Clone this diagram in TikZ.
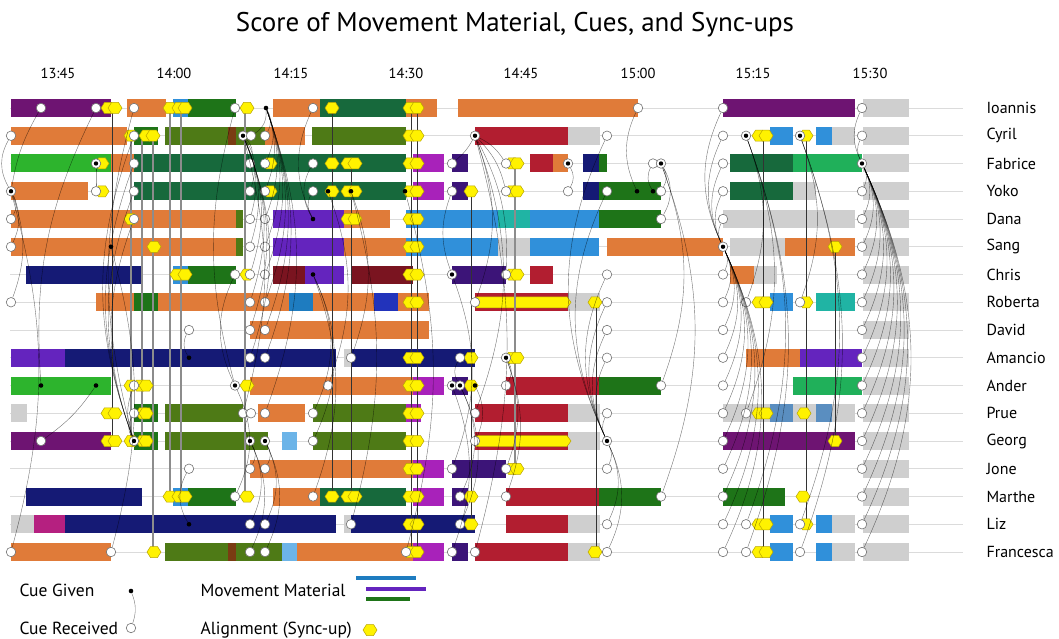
\documentclass[tikz,border=0pt]{standalone}
\usepackage{fontspec}
\setmainfont{PT Sans}
\definecolor{corange}{HTML}{E07B39}
\definecolor{cpurp}{HTML}{6E1472}
\definecolor{cdgreen}{HTML}{1E7418}
\definecolor{cforest}{HTML}{17693C}
\definecolor{colive}{HTML}{4E7A16}
\definecolor{clime}{HTML}{2DB42D}
\definecolor{cemerald}{HTML}{20B05A}
\definecolor{cred}{HTML}{B21E30}
\definecolor{cmaroon}{HTML}{7A1420}
\definecolor{cnavy}{HTML}{151A75}
\definecolor{cviolet}{HTML}{6424BE}
\definecolor{cmagenta}{HTML}{A822BA}
\definecolor{cindigo}{HTML}{3C1478}
\definecolor{cblue}{HTML}{3090DA}
\definecolor{cblue2}{HTML}{1E7CC0}
\definecolor{cteal}{HTML}{20B4A4}
\definecolor{csteel}{HTML}{5A8EC0}
\definecolor{clblue}{HTML}{6CB4E8}
\definecolor{cgray}{HTML}{CFCFCF}
\definecolor{cbrown}{HTML}{7A3C12}
\definecolor{cpink}{HTML}{B52080}
\definecolor{croyal}{HTML}{2233BB}
\definecolor{cyel}{HTML}{FFF200}
\definecolor{cyelb}{HTML}{B8A400}
\tikzset{
 recv/.style={circle, draw=black!55, fill=white, line width=0.6pt, inner sep=0pt, minimum size=9.5pt},
 cuer/.style={recv, path picture={\fill[black] (path picture bounding box.center) circle (2.2pt);}},
 cued/.style={circle, fill=black, inner sep=0pt, minimum size=4.6pt},
 cueline/.style={black, opacity=0.55, line width=0.4pt},
 syncA/.style={black!80, line width=0.7pt},
 syncB/.style={black!45, line width=1.1pt},
 rowline/.style={black!14, line width=0.8pt},
 hexa/.pic={\filldraw[fill=cyel, draw=cyelb, line width=0.5pt] (-7,0) -- (-3.5,-5.5) -- (3.5,-5.5) -- (7,0) -- (3.5,5.5) -- (-3.5,5.5) -- cycle;},
 timelab/.style={font=\fontsize{14.5}{16}\selectfont, text=black},
 namelab/.style={font=\fontsize{16}{18}\selectfont, anchor=west, text=black},
 leg/.style={font=\fontsize{17.5}{20}\selectfont, anchor=west, text=black},
}
\begin{document}
\begin{tikzpicture}[x=1pt,y=-1pt]
\useasboundingbox (0,0) rectangle (1059,639);
\fill[white] (0,0) rectangle (1059,639);
\node[font=\fontsize{27}{31}\selectfont, text=black] (title) at (515,25) {Score of Movement Material, Cues, and Sync-ups};
\foreach \t/\x [count=\i] in {13:45/58,14:00/174,14:15/291,14:30/406,14:45/521,15:00/638,15:15/753,15:30/870}
  \node[timelab] (t\i) at (\x,73) {\t};
\foreach \nm [count=\i from 0] in {Ioannis,Cyril,Fabrice,Yoko,Dana,Sang,Chris,Roberta,David,Amancio,Ander,Prue,Georg,Jone,Marthe,Liz,Francesca}
 {\pgfmathsetmacro\yy{108+27.75*\i}
  \node[namelab] (name\i) at (983,\yy) {\nm};
  \draw[rowline] (10,\yy) -- (963,\yy);}
% bars
\foreach \ri/\bl in {
0/{11/111/cpurp,127/166/corange,173/188/cblue,188/236/cdgreen,273/320/corange,320/406/cforest,406/437/corange,458/638/corange,723/855/cpurp,863/909/cgray},
1/{11/127/corange,134/158/cdgreen,165/228/colive,228/236/cbrown,236/265/colive,265/305/corange,312/406/colive,475/568/cred,568/600/cgray,770/793/cblue,816/855/cgray,816/832/cblue,863/909/cgray},
2/{11/111/clime,111/134/corange,134/406/cforest,413/444/cmagenta,452/468/cindigo,530/553/cred,553/568/corange,583/599/cnavy,599/607/cdgreen,730/793/cforest,793/862/cemerald,863/909/cgray},
3/{11/88/corange,134/406/cforest,413/444/cmagenta,452/468/cindigo,583/599/cnavy,599/661/cdgreen,730/793/cforest,793/816/cgray,863/909/cgray},
4/{11/236/corange,236/243/colive,273/344/cviolet,344/390/corange,406/498/cblue,498/530/cteal,530/599/cblue,599/661/cdgreen,723/855/cgray,863/909/cgray},
5/{11/236/corange,236/243/colive,273/344/cviolet,344/406/corange,406/498/cblue,498/530/cgray,530/599/cblue,607/723/corange,730/785/cgray,785/855/corange,863/909/cgray},
6/{26/142/cnavy,173/188/cblue,188/236/cdgreen,273/305/cmaroon,305/344/cviolet,352/413/cmaroon,452/506/cindigo,530/553/cred,730/754/corange,754/777/cgray,863/909/cgray},
7/{96/289/corange,134/158/cdgreen,289/313/cblue2,313/374/corange,374/398/croyal,398/429/corange,475/568/cred,568/600/cgray,770/793/cblue,816/855/cteal,863/909/cgray},
8/{250/429/corange,863/909/cgray},
9/{11/65/cviolet,65/336/cnavy,344/351/cgray,351/475/cnavy,746/800/corange,800/862/cviolet,863/909/cgray},
10/{11/111/clime,250/413/corange,413/444/cmagenta,452/468/cindigo,506/599/cred,599/661/cdgreen,793/862/cemerald,863/909/cgray},
11/{11/27/cgray,134/158/cdgreen,165/243/colive,258/305/corange,313/406/colive,406/421/cmagenta,475/568/cred,568/600/cgray,723/855/cgray,770/793/csteel,816/832/csteel,863/909/cgray},
12/{11/111/cpurp,134/158/cdgreen,165/268/colive,282/297/clblue,313/406/colive,475/568/cred,568/600/cgray,723/855/cpurp,863/909/cgray},
13/{250/413/corange,413/444/cmagenta,452/506/cindigo,863/909/cgray},
14/{26/142/cnavy,173/188/cblue,188/236/cdgreen,273/320/corange,320/406/cforest,413/444/cmagenta,452/468/cindigo,506/599/cred,599/661/cdgreen,723/785/cdgreen,863/909/cgray},
15/{11/34/cgray,34/65/cpink,65/336/cnavy,344/351/cgray,351/475/cnavy,506/568/cred,568/600/cgray,770/793/cblue,816/855/cgray,816/832/cblue,863/909/cgray},
16/{11/111/corange,165/228/colive,228/236/cbrown,236/282/colive,282/297/clblue,297/413/corange,413/444/cmagenta,452/468/cindigo,475/568/cred,568/600/cgray,770/793/cblue,816/855/cgray,816/832/cblue,863/909/cgray}}
 {\pgfmathsetmacro\yy{108+27.75*\ri}
  \foreach \a/\b/\c in \bl {\fill[\c] (\a,\yy-9) rectangle (\b,\yy+9);}}
% long yellow sync bars
\foreach \ri in {7,12}
 {\pgfmathsetmacro\yy{108+27.75*\ri}
  \filldraw[fill=cyel, draw=cyelb, line width=0.5pt] (476,\yy-5.5) -- (567,\yy-5.5) -- (571,\yy) -- (567,\yy+5.5) -- (476,\yy+5.5) -- cycle;}
% vertical sync lines
\foreach \x/\ra/\rb/\st [count=\k] in {112/0/12/syncA,131/1/12/syncB,142/1/12/syncB,153/1/16/syncB,170/0/14/syncB,181/0/14/syncB,245/0/14/syncB,332/0/14/syncA,351/2/14/syncA,411/0/16/syncA,417/0/16/syncA,471/3/15/syncA,515/2/13/syncB,596/7/16/syncA,763/1/16/syncA,806/1/15/syncA,835/5/12/syncA}
 {\pgfmathsetmacro\ya{108+27.75*\ra}\pgfmathsetmacro\yb{108+27.75*\rb}
  \coordinate (sa\k) at (\x,\ya); \coordinate (sb\k) at (\x,\yb);
  \draw[\st] (sa\k) -- (sb\k);}
% hexagons
\foreach \ri/\hl in {0/{108,115,170,179,185,247,332,410,417}, 1/{131,146,153,410,417,759,766,806}, 2/{102,270,332,348,355,410,417,512,517}, 3/{102,270,332,348,355,410,417,471,512,517}, 4/{131,348,355,410,417}, 5/{154,410,417,835}, 6/{177,185,247,410,417,512,517}, 7/{410,417,595,759,766,806}, 9/{410,417,471,512,517}, 10/{131,140,146,247,410,417,471}, 11/{108,115,143,146,410,417,759,766,804}, 12/{108,115,131,143,146,410,417,835}, 13/{410,417,512,517}, 14/{170,179,185,247,332,348,355,410,417,471,803}, 15/{410,417,471,759,766,806}, 16/{154,410,417,595,759,766}}
 {\pgfmathsetmacro\yy{108+27.75*\ri}
  \foreach \x in \hl {\pic at (\x,\yy) {hexa};}}
% cue / received circles
\foreach \ri/\cl in {
0/{recv/41,recv/96,recv/134,recv/235,cued/266,recv/313,recv/638,recv/723,recv/862},
1/{recv/11,recv/134,cuer/243,recv/251,recv/265,cuer/475,recv/607,recv/723,cuer/746,cuer/800,recv/862},
2/{cuer/96,recv/134,recv/250,recv/265,recv/313,recv/452,recv/506,cuer/568,recv/653,cuer/661,recv/723,cuer/862},
3/{cuer/11,recv/96,recv/134,recv/250,recv/265,recv/313,cued/328,cued/351,cued/405,recv/452,recv/506,recv/568,recv/607,cued/637,cued/653,recv/661,recv/723,recv/862},
4/{recv/11,recv/134,recv/250,recv/265,cued/313,recv/661,recv/723,recv/862},
5/{recv/11,cued/111,recv/250,recv/265,cuer/723,recv/862},
6/{recv/235,recv/250,recv/265,cued/313,cuer/452,recv/506,recv/607,recv/723,recv/862},
7/{recv/11,recv/250,recv/265,recv/475,recv/607,recv/723,recv/746,recv/800,recv/862},
8/{recv/189,recv/250,recv/265,recv/607,recv/723,recv/862},
9/{cued/189,recv/250,recv/265,recv/351,recv/460,cuer/506,recv/607,recv/723,recv/862},
10/{cued/41,cued/96,recv/134,cuer/235,recv/328,cuer/452,cuer/460,cued/475,recv/506,recv/661,recv/723,recv/862},
11/{recv/134,recv/243,recv/251,recv/265,recv/313,recv/475,recv/607,recv/723,recv/746,recv/862},
12/{recv/41,cuer/134,cuer/250,cuer/265,recv/313,recv/475,cuer/607,recv/723,recv/862},
13/{recv/189,recv/250,recv/265,recv/452,recv/506,recv/607,recv/723,recv/862},
14/{recv/235,recv/313,recv/460,recv/506,recv/661,recv/723,recv/862},
15/{cued/189,recv/250,recv/265,recv/351,recv/460,recv/607,recv/723,recv/746,recv/800,recv/862},
16/{recv/11,recv/111,recv/250,recv/265,recv/406,recv/452,recv/475,recv/607,recv/723,recv/746,recv/800,recv/862}}
 {\pgfmathsetmacro\yy{108+27.75*\ri}
  \foreach \t/\x in \cl {\node[\t] (n\ri x\x) at (\x,\yy) {};}}
% cue connectors
\foreach \a/\b/\g in {
2x862/0x862/25,2x862/1x862/25,2x862/3x862/25,2x862/4x862/25,2x862/5x862/25,2x862/6x862/25,2x862/7x862/25,2x862/8x862/25,2x862/9x862/25,2x862/10x862/25,2x862/11x862/25,2x862/12x862/25,2x862/13x862/25,2x862/14x862/25,2x862/15x862/25,2x862/16x862/25,
5x723/0x723/25,5x723/1x723/25,5x723/2x723/25,5x723/3x723/25,5x723/4x723/25,5x723/6x723/25,5x723/7x723/25,5x723/8x723/25,5x723/9x723/25,5x723/10x723/25,5x723/11x723/25,5x723/12x723/25,5x723/13x723/25,5x723/14x723/25,5x723/15x723/25,5x723/16x723/25,
1x746/7x746/20,1x746/11x746/20,1x746/15x746/20,1x746/16x746/20,1x800/7x800/20,1x800/15x800/20,1x800/16x800/20,
12x607/1x607/25,12x607/3x607/25,12x607/6x607/25,12x607/7x607/25,12x607/8x607/25,12x607/9x607/25,12x607/11x607/25,12x607/13x607/25,12x607/15x607/25,12x607/16x607/25,
2x661/3x661/30,2x661/4x661/30,2x661/10x661/20,2x661/14x661/20,3x637/0x638/25,3x653/2x653/30,2x568/3x568/30,
1x475/2x452/10,1x475/2x506/15,1x475/3x506/15,1x475/6x506/15,1x475/7x475/20,1x475/11x475/20,1x475/16x475/15,10x475/12x475/25,
6x452/3x452/20,6x452/13x452/20,10x452/16x452/20,10x460/9x460/30,10x460/14x460/25,10x460/15x460/25,9x506/10x506/30,9x506/13x506/20,9x506/14x506/20,
3x11/0x41/10,3x11/1x11/30,3x11/4x11/30,3x11/5x11/25,3x11/7x11/20,3x11/16x11/15,10x41/0x96/15,10x96/12x41/10,5x111/16x111/15,9x189/8x189/30,15x189/13x189/30,2x96/3x96/0,
12x134/0x134/15,12x134/1x134/20,12x134/2x134/20,12x134/3x134/20,12x134/4x134/20,12x134/10x134/20,12x134/11x134/30,
1x243/2x250/30,1x243/3x250/25,1x243/4x250/20,1x243/5x250/20,1x243/6x250/20,1x243/7x250/20,1x243/8x250/20,1x243/9x250/20,1x243/11x243/15,
0x266/1x265/30,0x266/1x251/30,0x266/2x265/25,0x266/3x265/20,0x266/4x265/20,0x266/5x265/20,0x266/6x265/20,0x266/7x265/20,0x266/8x265/20,0x266/9x265/20,0x266/11x265/20,
12x250/13x250/30,12x250/15x250/25,12x250/16x250/25,12x250/11x251/30,12x265/13x265/30,12x265/15x265/25,12x265/16x265/25,
10x235/0x235/15,10x235/6x235/25,10x235/14x235/25,4x313/0x313/25,4x313/2x313/30,4x313/3x313/30,6x313/11x313/25,6x313/12x313/25,6x313/14x313/20,
3x328/10x328/20,3x351/9x351/20,3x351/15x351/15,3x405/16x406/15}
  \draw[cueline] (n\a) to[bend left=\g] (n\b);
% legend
\node[leg] (lg1) at (16,590) {Cue Given};
\node[cued] (lgd) at (131,591) {};
\node[leg] (lg2) at (16,628) {Cue Received};
\node[recv] (lgr) at (131,628) {};
\draw[cueline] (lgd) to[bend left=20] (lgr);
\node[leg] (lg3) at (197,590) {Movement Material};
\coordinate (lb1) at (356,578); \coordinate (lb2) at (416,578);
\coordinate (lp1) at (366,589); \coordinate (lp2) at (426,589);
\coordinate (lq1) at (366,599); \coordinate (lq2) at (410,599);
\draw[cblue2, line width=4pt] (lb1) -- (lb2);
\draw[cviolet, line width=4pt] (lp1) -- (lp2);
\draw[cdgreen, line width=4pt] (lq1) -- (lq2);
\node[leg] (lg4) at (197,630) {Alignment (Sync-up)};
\pic at (370,630) {hexa};
\end{tikzpicture}
\end{document}
